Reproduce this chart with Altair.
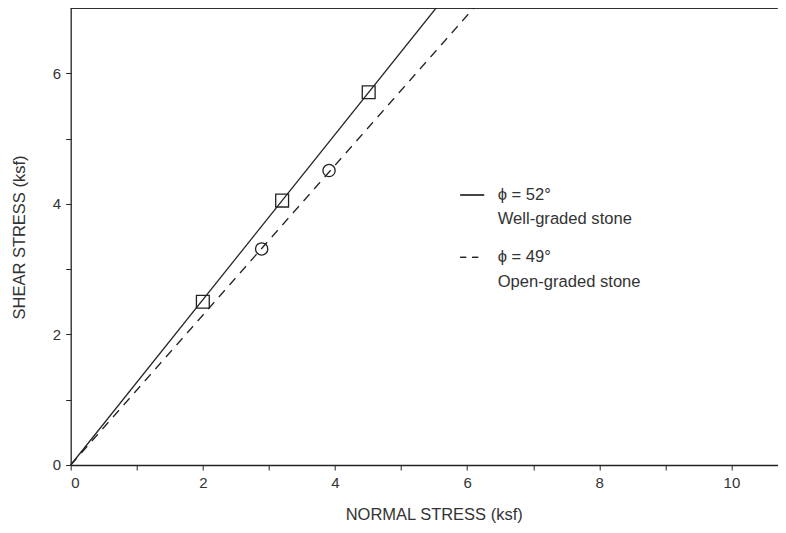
import altair as alt
import pandas as pd

# ---- data ----
well_x = [2.00, 3.20, 4.51]          # well-graded stone (squares)
well_y = [2.50, 4.05, 5.71]
open_x = [2.89, 3.91]                # open-graded stone (circles)
open_y = [3.31, 4.51]

solid_x = [0.0, 5.53]                # phi = 52° envelope
solid_y = [0.0, 7.0]
dash_x = [0.0, 6.10]                 # phi = 49° envelope
dash_y = [0.0, 7.0]

x_ticks = list(range(0, 11))
y_ticks = list(range(0, 7))

legend_titles = ["\u03d5 = 52\u00b0", "\u03d5 = 49\u00b0"]
legend_subs = ["Well-graded stone", "Open-graded stone"]

FONT = "Liberation Sans, Arial, DejaVu Sans"
INK = "#222222"
TXT = "#333333"
W, H = 707, 457
X_MAX = 10.7

well = pd.DataFrame({"x": well_x, "y": well_y})
opn = pd.DataFrame({"x": open_x, "y": open_y})
sline = pd.DataFrame({"x": solid_x, "y": solid_y})
dline = pd.DataFrame({"x": dash_x, "y": dash_y})

x_enc = alt.X(
    "x:Q",
    scale=alt.Scale(domain=[0, X_MAX], nice=False, zero=False),
    axis=alt.Axis(
        values=x_ticks,
        labelExpr="datum.value % 2 == 0 ? datum.label : ''",
        title="NORMAL STRESS (ksf)",
        titleX=363, titleY=55, titleBaseline="alphabetic",
        labelPadding=5.5,
    ),
)
y_enc = alt.Y(
    "y:Q",
    scale=alt.Scale(domain=[0, 7], nice=False, zero=False),
    axis=alt.Axis(
        values=y_ticks,
        labelExpr="datum.value % 2 == 0 ? datum.label : ''",
        title="SHEAR STRESS (ksf)",
        titleX=-45.7, titleY=229, titleBaseline="alphabetic", titleAngle=270,
        labelPadding=5,
    ),
)

solid = alt.Chart(sline).mark_line(color=INK, strokeWidth=1.25).encode(x=x_enc, y=y_enc)
dashed = alt.Chart(dline).mark_line(color=INK, strokeWidth=1.25, strokeDash=[9, 7]).encode(x=x_enc, y=y_enc)

squares = alt.Chart(well).mark_point(
    shape="square", size=165, filled=False, color=INK, strokeWidth=1.3, opacity=1
).encode(x=x_enc, y=y_enc)
circles = alt.Chart(opn).mark_point(
    shape="circle", size=150, filled=False, color=INK, strokeWidth=1.3, opacity=1
).encode(x=x_enc, y=y_enc)

# top frame line
top = alt.Chart(sline).mark_rule(color=INK, strokeWidth=1.3).encode(
    x=alt.value(0), x2=alt.value(W), y=alt.value(0)
)

# legend
leg_solid = alt.Chart(sline).mark_rule(color=INK, strokeWidth=1.2).encode(
    x=alt.value(389.5), x2=alt.value(413.5), y=alt.value(187)
)
leg_dash = alt.Chart(sline).mark_rule(color=INK, strokeWidth=1.2, strokeDash=[6, 6]).encode(
    x=alt.value(389.5), x2=alt.value(413.5), y=alt.value(249.3)
)

def label(txt, y):
    return alt.Chart(pd.DataFrame({"t": [txt]})).mark_text(
        align="left", baseline="middle", font=FONT, fontSize=16.6, color=TXT
    ).encode(text="t:N", x=alt.value(427), y=alt.value(y))

legend_layers = [
    label(legend_titles[0], 187),
    label(legend_subs[0], 211.3),
    label(legend_titles[1], 249.3),
    label(legend_subs[1], 273.7),
]

chart = alt.layer(
    solid, dashed, squares, circles, top, leg_solid, leg_dash, *legend_layers
).properties(
    width=W, height=H,
    padding={"left": 62.7, "top": 0, "right": 0, "bottom": 60},
    autosize=alt.AutoSizeParams(type="none"),
).configure_view(stroke=None).configure_axis(
    grid=False,
    domainColor=INK, domainWidth=1.3,
    tickColor=INK, tickWidth=1, tickSize=5,
    labelColor=TXT, labelFont=FONT, labelFontSize=15,
    titleColor=TXT, titleFont=FONT, titleFontSize=16.5, titleFontWeight="normal",
)

chart.save("out.html", embed_options={"renderer": "svg", "actions": False})
